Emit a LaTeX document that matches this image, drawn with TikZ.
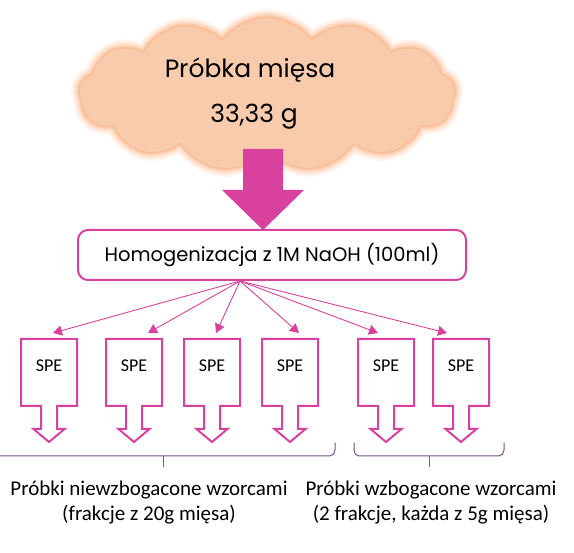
\documentclass[tikz,border=0pt]{standalone}
\usepackage{fontspec}
\setmainfont{Carlito}
\newfontfamily\geofont{Poppins}
\usetikzlibrary{shapes.symbols,arrows.meta}
\definecolor{mag}{RGB}{216,66,158}
\definecolor{peach}{RGB}{248,203,173}
\definecolor{glow}{RGB}{250,172,120}
\definecolor{brc}{RGB}{122,80,150}
\tikzset{
  speline/.style={draw=mag,line width=2pt,fill=white,line join=miter},
  spetext/.style={font=\fontsize{18}{20}\selectfont,inner sep=0pt},
  thin arrow/.style={draw=mag,line width=0.9pt,-{Triangle[length=9pt,width=10pt]}},
  brace/.style={draw=brc,line width=1pt},
  pics/spe/.style={code={
    \draw[speline] (-28,-27) -- (28,-27) -- (28,40) -- (8,40) -- (8,63) -- (15.5,63) -- (0,76) -- (-15.5,63) -- (-8,63) -- (-8,40) -- (-28,40) -- cycle;
    \node[spetext] (-t) at (0,0) {SPE};
  }},
  cloudshape/.style={cloud,cloud puffs=13,cloud puff arc=110,aspect=2.5,minimum width=375pt,minimum height=152pt,inner sep=0pt}
}
\begin{document}
\begin{tikzpicture}[x=1pt,y=-1pt]
\useasboundingbox (0,0) rectangle (574,553);
% cloud glow
\foreach \w/\o in {18/0.1,14/0.15,10/0.22,6/0.32,3/0.5}{
  \node[cloudshape,draw=glow,line width=\w pt,draw opacity=\o] at (267,94) {};
}
\node[cloudshape,fill=peach] (cloud) at (267,94) {};
\node[font=\geofont\fontsize{25}{28}\selectfont,inner sep=0pt] (t1) at (250,70) {Próbka mięsa};
\node[font=\geofont\fontsize{25}{28}\selectfont,inner sep=0pt] (t2) at (254,117) {33,33 g};
% big arrow
\fill[mag] (243,149) -- (283,149) -- (283,190) -- (304,190) -- (263,230) -- (222,190) -- (243,190) -- cycle;
% homogenization box
\node[draw=mag,line width=2pt,rounded corners=10pt,minimum width=388pt,minimum height=50pt,fill=white,
  font=\geofont\fontsize{19.5}{22}\selectfont] (homog) at (272,255) {Homogenizacja z 1M NaOH (100ml)};
\coordinate (hub) at (240,281);
% SPE boxes
\pic (s1) at (49,366) {spe};
\pic (s2) at (134,366) {spe};
\pic (s3) at (212,366) {spe};
\pic (s4) at (290,366) {spe};
\pic (s5) at (386,366) {spe};
\pic (s6) at (461,366) {spe};
\coordinate (e1) at (53,333);
\coordinate (e2) at (148,333);
\coordinate (e3) at (216,333);
\coordinate (e4) at (299,333);
\coordinate (e5) at (378,333);
\coordinate (e6) at (447,333);
\foreach \i in {1,...,6}{\draw[thin arrow] (hub) -- (e\i);}
% braces
\draw[brace,line cap=round] (0,456) -- (330,456) to[out=0,in=-90] (335,450) -- (335,443);
\draw[brace] (163,456) -- (163,467);
\draw[brace,line cap=round] (354,443) -- (354,450) to[out=-90,in=180] (359,456) -- (499,456) to[out=0,in=-90] (504,450) -- (504,443);
\draw[brace] (429,456) -- (429,467);
% bottom texts
\node[font=\fontsize{21}{25}\selectfont,align=center,inner sep=0pt] (lbl1) at (149,503) {Próbki niewzbogacone wzorcami\\(frakcje z 20g mięsa)};
\node[font=\fontsize{21}{25}\selectfont,align=center,inner sep=0pt] (lbl2) at (431,503) {Próbki wzbogacone wzorcami\\(2 frakcje, każda z 5g mięsa)};
\end{tikzpicture}
\end{document}
